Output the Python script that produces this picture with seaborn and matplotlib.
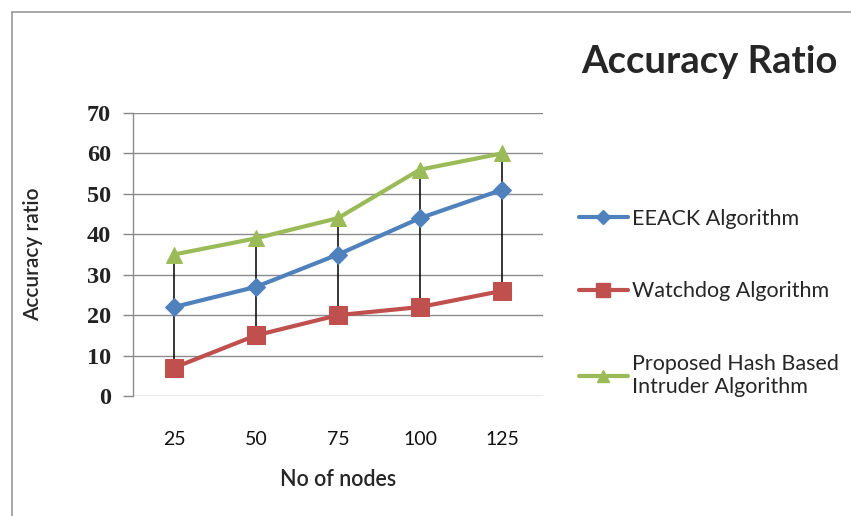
import matplotlib
matplotlib.use("Agg")
import matplotlib.pyplot as plt
import matplotlib.lines as mlines
import pandas as pd
import seaborn as sns

# Data
nodes = ["25", "50", "75", "100", "125"]
eeack = [22, 27, 35, 44, 51]
watchdog = [7, 15, 20, 22, 26]
proposed = [35, 39, 44, 56, 60]
series_names = ["EEACK Algorithm", "Watchdog Algorithm",
                "Proposed Hash Based\nIntruder Algorithm"]
y_ticks = [0, 10, 20, 30, 40, 50, 60, 70]

sns.set_theme(style="white")
plt.rcParams["font.family"] = ["Lato", "DejaVu Sans"]

df = pd.DataFrame({
    "nodes": nodes * 3,
    "pos": list(range(len(nodes))) * 3,
    "value": eeack + watchdog + proposed,
    "series": [series_names[0]] * 5 + [series_names[1]] * 5 + [series_names[2]] * 5,
})

colors = ["#4F81BD", "#C0504D", "#9BBB59"]
markers = ["D", "s", "^"]
msizes = [9.5, 13, 11]

fig = plt.figure(figsize=(8.51, 5.16), dpi=100)
ax = fig.add_axes([133 / 851, 1 - 396 / 516, 410 / 851, 283 / 516])

# High-low drop lines between series at each category
hi = [max(v) for v in zip(eeack, watchdog, proposed)]
lo = [min(v) for v in zip(eeack, watchdog, proposed)]
ax.vlines(range(len(nodes)), lo, hi, colors="black", linewidth=1.1, zorder=2)

for name, c, m, ms in zip(series_names, colors, markers, msizes):
    sub = df[df["series"] == name]
    sns.lineplot(data=sub, x="pos", y="value", ax=ax, color=c, linewidth=3,
                 marker=m, markersize=ms, markeredgecolor=c, legend=False,
                 zorder=3)

ax.set_xlim(-0.5, len(nodes) - 0.5)
ax.set_ylim(0, 70)
ax.set_yticks(y_ticks)
ax.set_yticklabels([str(t) for t in y_ticks], family="Liberation Serif",
                   fontweight="bold", fontsize=17.5, color="#222222")
ax.set_xticks(range(len(nodes)))
ax.set_xticklabels(nodes, fontsize=14, color="#111111")
ax.tick_params(axis="x", length=0, pad=25)
ax.tick_params(axis="y", length=7, width=1, color="#888888", direction="out",
               pad=9, left=True)
ax.yaxis.grid(True, color="#8c8c8c", linewidth=1)
ax.set_axisbelow(True)
for side in ["top", "right", "bottom"]:
    ax.spines[side].set_visible(False)
ax.spines["left"].set_color("#8c8c8c")
ax.spines["left"].set_linewidth(1)

ax.set_xlabel("No of nodes", fontsize=15.5, fontweight="semibold", labelpad=15)
ax.set_ylabel("Accuracy ratio", fontsize=15, fontweight="semibold", labelpad=31)

fig.text(0.834, 1 - 62 / 516, "Accuracy Ratio", fontsize=27.5, fontweight="bold",
         ha="center", va="center")

# Legend
handles = [mlines.Line2D([], [], color=c, marker=m, markersize=ms * 0.8,
                         linewidth=3, markeredgecolor=c)
           for c, m, ms in zip(colors, markers, msizes)]
fig.legend(handles, series_names, loc="upper left",
           bbox_to_anchor=(570 / 851, 1 - 200 / 516), frameon=False,
           fontsize=15.5, handlelength=2.3, handletextpad=0.2,
           labelspacing=2.45, borderaxespad=0)

# Outer chart frame (left and top edges)
fig.add_artist(mlines.Line2D([12 / 851, 12 / 851], [0, 1 - 12 / 516],
                             transform=fig.transFigure, color="#9a9a9a", lw=1.2))
fig.add_artist(mlines.Line2D([12 / 851, 1], [1 - 12 / 516, 1 - 12 / 516],
                             transform=fig.transFigure, color="#9a9a9a", lw=1.2))

fig.savefig("out.png", dpi=100)
